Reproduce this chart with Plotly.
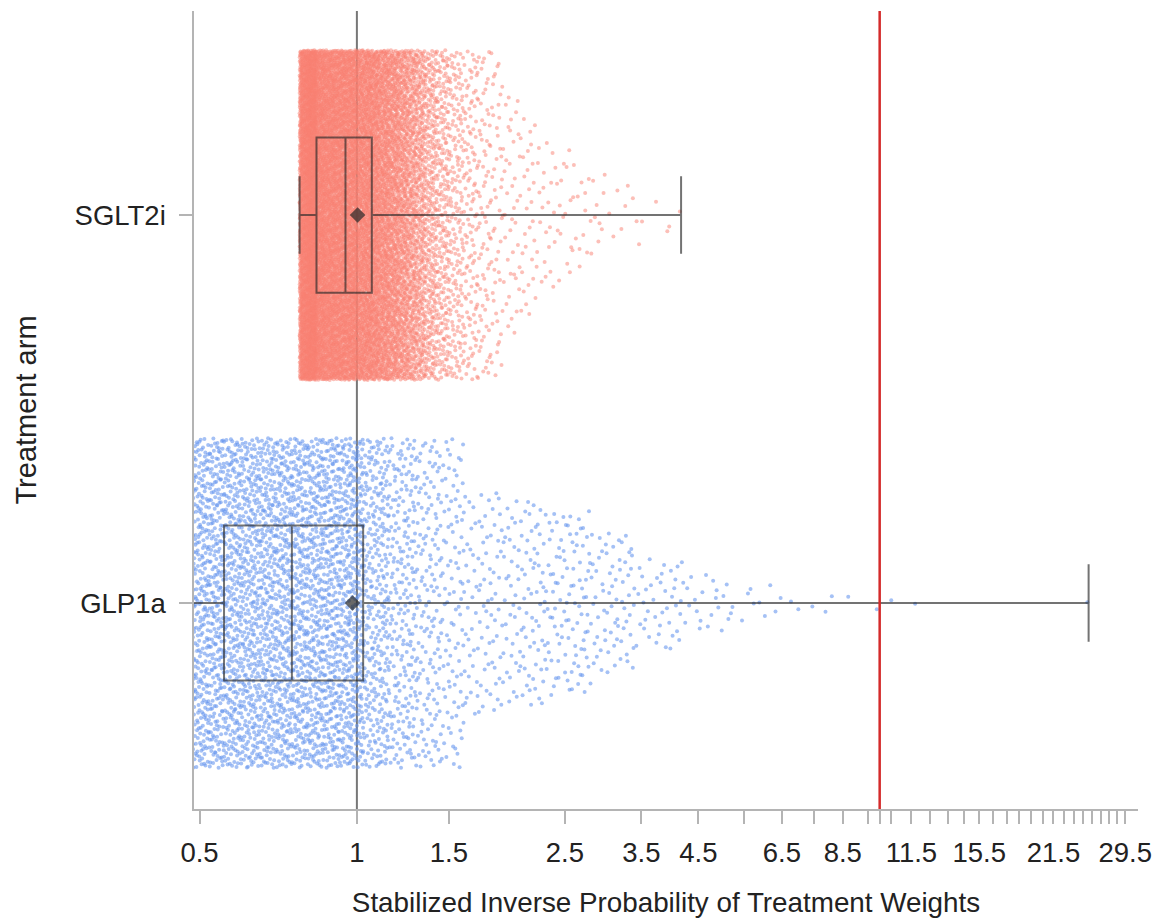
import numpy as np
import plotly.graph_objects as go

# ---------------- data ----------------
arm_names = ["GLP1a", "SGLT2i"]
arm_positions = [0, 1]

# distribution of the weights per arm, as bins (edges) and number of patients per bin
sglt2i_bin_edges = [0.777, 0.80, 0.82, 0.837, 0.87, 0.91, 0.951, 1.0, 1.068, 1.10, 1.15,
                    1.20, 1.25, 1.30, 1.35, 1.42, 1.5, 1.6, 1.7, 1.8, 1.9, 2.05, 2.2,
                    2.4, 2.6, 2.8, 3.0, 3.5, 4.17]
sglt2i_bin_counts = [900, 900, 800, 1000, 1100, 1050, 1200, 1400, 600, 800,
                     680, 560, 440, 350, 320, 240, 180, 115, 75, 52, 40, 30,
                     24, 17, 12, 9, 9, 5]

glp1a_bin_edges = [0.41, 0.45, 0.488, 0.52, 0.557, 0.60, 0.65, 0.70, 0.751, 0.80, 0.86,
                   0.93, 1.028, 1.15, 1.3, 1.45, 1.6, 1.9, 2.3, 2.8, 3.4, 4.2, 5.2,
                   6.5, 8.5, 12.0, 24.6, 25.1]
glp1a_bin_counts = [365, 318, 250, 270, 292, 314, 290, 276, 248, 283, 307,
                    394, 300, 228, 144, 96, 90, 100, 100, 70, 40, 22,
                    10, 5, 4, 0, 1]

# box-plot statistics (GLP1a, SGLT2i)
box_lowerfence = [0.41, 0.777]
box_q1 = [0.557, 0.837]
box_median = [0.751, 0.951]
box_q3 = [1.028, 1.068]
box_upperfence = [25.1, 4.17]
box_mean = [0.981, 1.003]

unit_line_x = 1
threshold_line_x = 10

x_tick_values = [0.5, 1, 1.5, 2.5, 3.5, 4.5, 5.5, 6.5, 7.5, 8.5, 9.5, 10, 10.5, 11.5,
                 12.5, 13.5, 14.5, 15.5, 16.5, 17.5, 18.5, 19.5, 20.5, 21.5, 22.5,
                 23.5, 24.5, 25.5, 26.5, 27.5, 28.5, 29.5]
x_tick_labels = ["0.5", "1", "1.5", "2.5", "3.5", "4.5", "", "6.5", "", "8.5", "", "", "",
                 "11.5", "", "", "", "15.5", "", "", "", "", "", "21.5", "", "", "", "",
                 "", "", "", "29.5"]


# ---------------- helpers ----------------
def van_der_corput(n, base=2):
    v, denom = 0.0, 1.0
    while n:
        denom *= base
        n, r = divmod(n, base)
        v += r / denom
    return v


def expand_bins(edges, counts):
    """Spread each bin's patients over the bin (quasi-random Halton positions)."""
    xs, dens, us = [], [], []
    k = 1
    for a, b, n in zip(edges[:-1], edges[1:], counts):
        for _ in range(n):
            xs.append(a + (b - a) * van_der_corput(k, 3))
            us.append(van_der_corput(k, 2))
            dens.append(n / (b - a))
            k += 1
    return np.array(xs), np.array(dens), np.array(us)


def jitter_offsets(density, u, full_density, half_band):
    # band width shrinks with local density (sina-like jitter)
    width = np.minimum(1.0, np.sqrt(density / full_density))
    return half_band * width * (2 * u - 1)


HALF_BAND = 0.425
sg_x, sg_d, sg_u = expand_bins(sglt2i_bin_edges, sglt2i_bin_counts)
gl_x, gl_d, gl_u = expand_bins(glp1a_bin_edges, glp1a_bin_counts)
sg_y = arm_positions[1] + jitter_offsets(sg_d, sg_u, 520.0, HALF_BAND)
gl_y = arm_positions[0] + jitter_offsets(gl_d, gl_u, 640.0, HALF_BAND)

BOX_LINE = "rgba(40,40,40,0.65)"
X_RANGE = [np.log10(0.488), np.log10(31.2)]
Y_RANGE = [-0.531, 1.526]

fig = go.Figure()
fig.add_trace(go.Scatter(x=sg_x, y=sg_y, mode="markers", name="SGLT2i",
                         marker=dict(color="rgba(250,128,114,0.5)", size=4, line=dict(width=0)),
                         hoverinfo="skip"))
fig.add_trace(go.Scatter(x=gl_x, y=gl_y, mode="markers", name="GLP1a",
                         marker=dict(color="rgba(100,149,237,0.58)", size=4, line=dict(width=0)),
                         hoverinfo="skip"))
# box + mean drawn on overlaying axes so they sit on top of the points
fig.add_trace(go.Box(y=arm_positions, orientation="h",
                     q1=box_q1, median=box_median, q3=box_q3,
                     lowerfence=box_lowerfence, upperfence=box_upperfence,
                     boxpoints=False, width=0.4, whiskerwidth=0.5,
                     fillcolor="rgba(0,0,0,0)", line=dict(color=BOX_LINE, width=2),
                     hoverinfo="skip", xaxis="x2", yaxis="y2"))
fig.add_trace(go.Scatter(x=box_mean, y=arm_positions, mode="markers",
                         marker=dict(symbol="diamond", size=12, color="rgba(40,40,40,0.7)",
                                     line=dict(width=0)),
                         hoverinfo="skip", xaxis="x2", yaxis="y2"))

fig.add_shape(type="line", xref="x", yref="paper", x0=unit_line_x, x1=unit_line_x, y0=0, y1=1,
              line=dict(color="#777777", width=2), layer="below")
fig.add_shape(type="line", xref="x", yref="paper", x0=threshold_line_x, x1=threshold_line_x,
              y0=0, y1=1, line=dict(color="#d42a2a", width=2.5), layer="above")

axis_common = dict(showgrid=False, zeroline=False, showline=True, linecolor="#b4b4b4",
                   linewidth=1.5, ticks="outside", ticklen=13, tickwidth=1.5,
                   tickcolor="#b4b4b4", tickfont=dict(size=27.5, color="#222222"))

fig.update_layout(
    width=1164, height=924,
    margin=dict(l=194, r=26, t=11, b=115),
    paper_bgcolor="white", plot_bgcolor="white",
    showlegend=False, boxmode="overlay",
    font=dict(family="Liberation Sans, Arial, sans-serif", size=27.5, color="#222222"),
    xaxis=dict(type="log", range=X_RANGE,
               tickmode="array", tickvals=x_tick_values, ticktext=x_tick_labels,
               ticklabelstandoff=5,
               title=dict(text="Stabilized Inverse Probability of Treatment Weights",
                          font=dict(size=27.8), standoff=26),
               **axis_common),
    yaxis=dict(range=Y_RANGE, tickmode="array", tickvals=arm_positions,
               ticktext=arm_names, ticklabelstandoff=8,
               title=dict(text="Treatment arm", font=dict(size=29), standoff=29),
               **axis_common),
    xaxis2=dict(type="log", range=X_RANGE, overlaying="x", visible=False),
    yaxis2=dict(range=Y_RANGE, overlaying="y", visible=False),
)

fig.write_html("out.html")
